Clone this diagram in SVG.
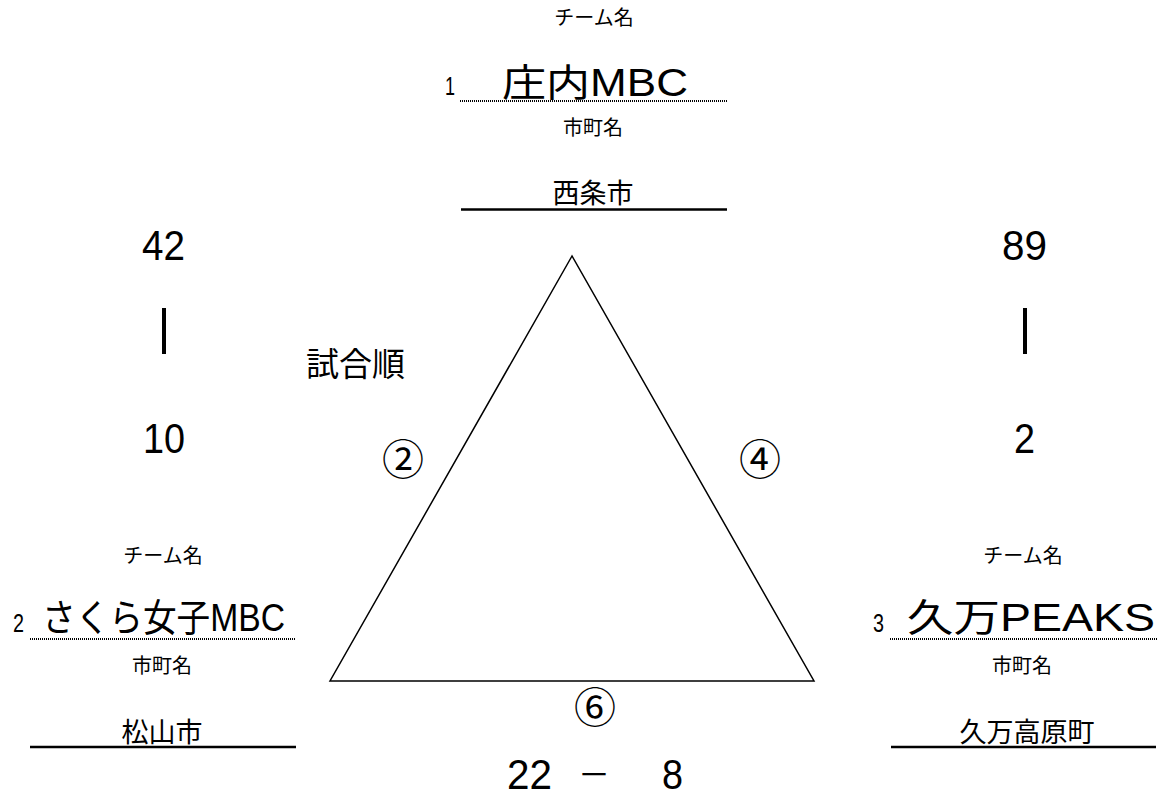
<svg xmlns="http://www.w3.org/2000/svg" width="1158" height="796" viewBox="0 0 1158 796">
<style>
text{font-family:"Liberation Sans","Noto Sans CJK JP",sans-serif;fill:#000}
.lbl{font-size:20px;text-anchor:middle}
.team{font-size:38px}
.city{font-size:27px;text-anchor:middle}
.num{font-family:"Liberation Sans",sans-serif;font-size:25px}
.score{font-family:"Liberation Sans",sans-serif;font-size:42px}
.bar{font-family:"Liberation Sans",sans-serif;font-size:50px;text-anchor:middle}
.circ{font-family:"Noto Sans CJK JP",sans-serif;font-size:42px;text-anchor:middle}
.dot{stroke:#000;stroke-width:2;stroke-dasharray:1 1;fill:none}
.solid{stroke:#000;stroke-width:2.5;fill:none}
</style>
<g id="connectors">
<polygon points="572,256 330,681 814,681" fill="none" stroke="#000" stroke-width="1.5"/>
</g>
<g id="team1">
<text class="lbl" x="594" y="25">チーム名</text>
<text class="num" x="445" y="95" textLength="10" lengthAdjust="spacingAndGlyphs">1</text>
<text class="team" x="502" y="96" textLength="186" lengthAdjust="spacingAndGlyphs">庄内MBC</text>
<line class="dot" x1="460" y1="101" x2="727" y2="101"/>
<text class="lbl" x="593" y="135">市町名</text>
<text class="city" x="593" y="203">西条市</text>
<line class="solid" x1="461" y1="209.5" x2="727" y2="209.5"/>
</g>
<g id="team2">
<text class="lbl" x="163" y="563">チーム名</text>
<text class="num" x="13" y="632" textLength="11" lengthAdjust="spacingAndGlyphs">2</text>
<text class="team" x="42" y="631" textLength="243" lengthAdjust="spacingAndGlyphs">さくら女子MBC</text>
<line class="dot" x1="30" y1="639" x2="296" y2="639"/>
<text class="lbl" x="162" y="673">市町名</text>
<text class="city" x="162" y="742">松山市</text>
<line class="solid" x1="30" y1="747" x2="296" y2="747"/>
</g>
<g id="team3">
<text class="lbl" x="1023" y="563">チーム名</text>
<text class="num" x="873" y="632" textLength="11" lengthAdjust="spacingAndGlyphs">3</text>
<text class="team" x="907" y="631" textLength="248" lengthAdjust="spacingAndGlyphs">久万PEAKS</text>
<line class="dot" x1="890" y1="639" x2="1158" y2="639"/>
<text class="lbl" x="1022" y="673">市町名</text>
<text class="city" x="1027" y="742">久万高原町</text>
<line class="solid" x1="891" y1="747" x2="1156" y2="747"/>
</g>
<g id="score-left">
<text class="score" x="142" y="260" textLength="43" lengthAdjust="spacingAndGlyphs">42</text>
<text class="bar" x="164" y="344">|</text>
<text class="score" x="143" y="453" textLength="42" lengthAdjust="spacingAndGlyphs">10</text>
</g>
<g id="score-right">
<text class="score" x="1002" y="260" textLength="45" lengthAdjust="spacingAndGlyphs">89</text>
<text class="bar" x="1025" y="344">|</text>
<text class="score" x="1014" y="453" textLength="21" lengthAdjust="spacingAndGlyphs">2</text>
</g>
<g id="order">
<text x="306" y="376" style="font-size:33px">試合順</text>
<text class="circ" x="403" y="475">②</text>
<text class="circ" x="760" y="475">④</text>
<text class="circ" x="595" y="723">⑥</text>
</g>
<g id="score-bottom">
<text class="score" x="507" y="789" textLength="45" lengthAdjust="spacingAndGlyphs">22</text>
<text x="594" y="786" style="font-family:'Noto Sans CJK JP',sans-serif;font-size:32px;text-anchor:middle">－</text>
<text class="score" x="662" y="789" textLength="21" lengthAdjust="spacingAndGlyphs">8</text>
</g>
</svg>
